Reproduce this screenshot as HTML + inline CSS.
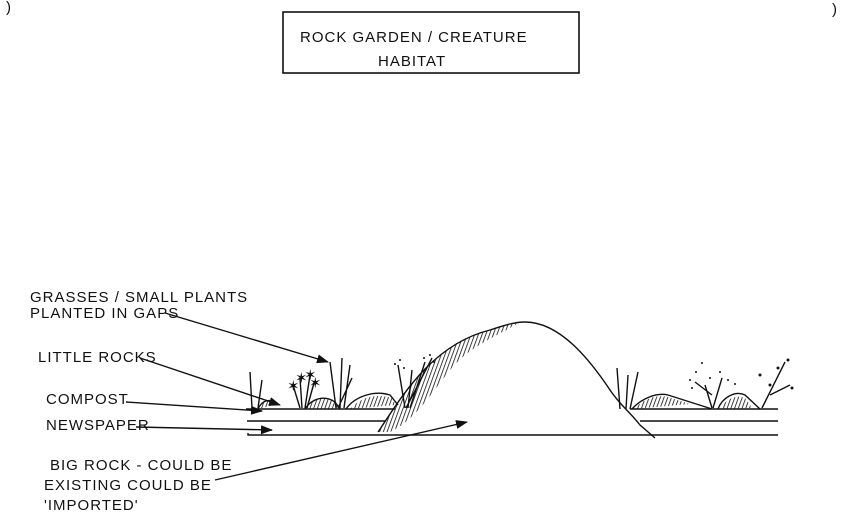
<!DOCTYPE html>
<html><head><meta charset="utf-8"><style>
html,body{margin:0;padding:0;background:#fff;}
svg{display:block}
text{font-family:"Liberation Sans",sans-serif;fill:#111;font-size:15px;letter-spacing:1px}
</style></head><body>
<svg width="848" height="517" viewBox="0 0 848 517" xmlns="http://www.w3.org/2000/svg">
<defs>
<pattern id="h" width="3.5" height="4" patternUnits="userSpaceOnUse" patternTransform="rotate(20)">
<line x1="0" y1="0" x2="0" y2="4" stroke="#111" stroke-width="1.6"/>
</pattern>
<marker id="a" markerWidth="12" markerHeight="9" refX="11" refY="4.5" orient="auto" markerUnits="userSpaceOnUse">
<path d="M0,0 L12,4.5 L0,9 z" fill="#111"/></marker>
</defs>
<g fill="none" stroke="#111" stroke-width="1.6">
<rect x="283" y="12" width="296" height="61"/>
</g>
<text x="300" y="42" font-size="19">ROCK GARDEN / CREATURE</text>
<text x="378" y="66" font-size="19">HABITAT</text>
<text x="6" y="12" font-size="14">)</text>
<text x="832" y="14" font-size="14">)</text>

<text x="30" y="302" font-size="12.5">GRASSES / SMALL PLANTS</text>
<text x="30" y="318" font-size="12.5">PLANTED IN GAPS</text>
<text x="38" y="362" font-size="12.5">LITTLE ROCKS</text>
<text x="46" y="404" font-size="12.5">COMPOST</text>
<text x="46" y="430" font-size="12.5">NEWSPAPER</text>
<text x="50" y="470" font-size="12.5">BIG ROCK - COULD BE</text>
<text x="44" y="490" font-size="12.5">EXISTING COULD BE</text>
<text x="44" y="510" font-size="12.5">'IMPORTED'</text>

<g fill="none" stroke="#111" stroke-width="1.4">
<line x1="165" y1="313" x2="328" y2="362" marker-end="url(#a)"/>
<line x1="140" y1="358" x2="280" y2="405" marker-end="url(#a)"/>
<line x1="126" y1="402" x2="262" y2="411" marker-end="url(#a)"/>
<line x1="136" y1="427" x2="272" y2="430" marker-end="url(#a)"/>
<line x1="215" y1="480" x2="467" y2="422" marker-end="url(#a)"/>
<line x1="246" y1="409" x2="395" y2="409"/>
<line x1="630" y1="409" x2="778" y2="409"/>
<line x1="247" y1="421" x2="385" y2="421"/>
<line x1="640" y1="421" x2="778" y2="421"/>
<path d="M248,433 L248,435 L778,435"/>
<path d="M378,432 C400,400 430,345 490,330 C505,325 515,322 525,322 C560,322 590,360 610,390 C620,405 628,410 640,425 L655,438"/>
<path d="M378,432 C400,400 430,345 490,330 L520,322 C500,335 470,345 450,370 C430,395 415,420 390,432 Z" fill="url(#h)" stroke="none"/>
<path d="M258,409 C262,400 270,398 278,404" fill="url(#h)"/>
<path d="M305,409 C312,398 325,395 335,402 L340,409" fill="url(#h)"/>
<path d="M346,409 C355,396 375,390 390,395 L398,405"/>
<path d="M350,409 C360,398 375,393 392,398 L396,405 Z" fill="url(#h)" stroke="none"/>
<path d="M632,409 C640,400 655,392 668,395 L712,409"/>
<path d="M634,409 C642,400 655,394 668,397 L690,404 Z" fill="url(#h)" stroke="none"/>
<path d="M718,409 C722,398 735,390 745,395 L760,409"/>
<path d="M720,409 C725,400 735,394 745,398 L752,408 Z" fill="url(#h)" stroke="none"/>
<path d="M252,408 L250,372 M258,408 L262,380 M336,408 L330,362 M340,408 L342,358 M344,408 L350,365 M338,408 L352,378"/>
<path d="M620,409 L617,368 M626,409 L628,375 M630,409 L638,372"/>
<path d="M300,408 L293,385 M302,408 L300,378 M305,408 L310,375 M307,408 L314,383"/>
<path d="M405,408 L398,365 M408,408 L412,370 M410,408 L425,362 M406,408 L432,358"/>
<path d="M712,408 L705,385 M713,408 L722,378 M712,395 L695,382"/>
<path d="M762,408 L785,362 M770,395 L790,385"/>
</g>
<text x="287" y="391" font-size="11">✶</text><text x="295" y="383" font-size="11">✶</text><text x="304" y="380" font-size="11">✶</text><text x="309" y="388" font-size="11">✶</text>
<g fill="#111">
<circle cx="395" cy="364" r="1"/><circle cx="400" cy="360" r="1"/><circle cx="404" cy="368" r="1"/><circle cx="424" cy="358" r="1"/><circle cx="430" cy="355" r="1"/><circle cx="434" cy="362" r="1"/>
<circle cx="690" cy="380" r="1"/><circle cx="696" cy="372" r="1"/><circle cx="702" cy="363" r="1"/><circle cx="710" cy="378" r="1"/><circle cx="720" cy="372" r="1"/><circle cx="728" cy="380" r="1"/><circle cx="692" cy="388" r="1"/><circle cx="735" cy="384" r="1"/>
<circle cx="760" cy="375" r="1.5"/><circle cx="778" cy="368" r="1.5"/><circle cx="788" cy="360" r="1.5"/><circle cx="792" cy="388" r="1.5"/><circle cx="770" cy="385" r="1.5"/>
</g>
</svg>
</body></html>
